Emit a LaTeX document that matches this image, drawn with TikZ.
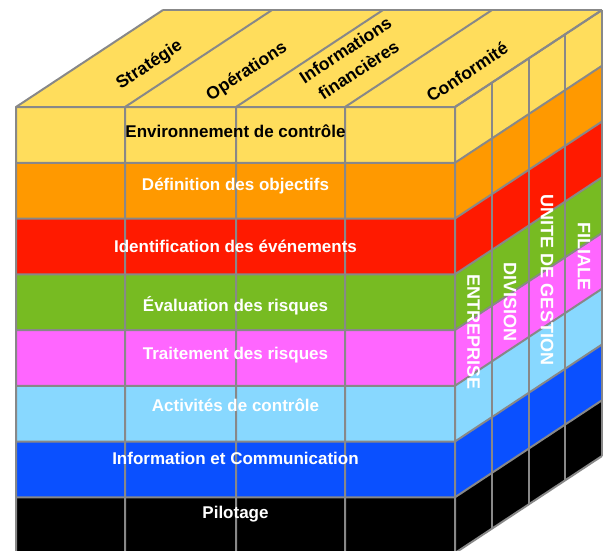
\documentclass[tikz,border=0pt]{standalone}
\usepackage{fontspec}
\setmainfont{Liberation Sans}
\definecolor{envyellow}{RGB}{255,221,92}
\definecolor{objorange}{RGB}{255,153,0}
\definecolor{eventred}{RGB}{255,26,0}
\definecolor{riskgreen}{RGB}{119,187,34}
\definecolor{treatpink}{RGB}{255,102,255}
\definecolor{ctrlblue}{RGB}{136,216,255}
\definecolor{infoblue}{RGB}{10,80,255}
\definecolor{gridgray}{RGB}{136,136,136}
\begin{document}
\begin{tikzpicture}[x=1pt,y=-1pt,
    grid/.style={gridgray,line width=2pt},
    layer/.style={font=\fontsize{17}{20}\selectfont\bfseries,text=white},
    objective/.style={font=\fontsize{17.5}{24}\selectfont\bfseries,rotate=33.4,align=center},
    unit/.style={font=\fontsize{18}{20}\selectfont\bfseries,text=white,rotate=-90}]
  \useasboundingbox (0,0) rectangle (603,550);
  \clip (0,0) rectangle (603,550);
  % top face
  \fill[envyellow] (16,107) -- (163,10) -- (602,10) -- (455,107) -- cycle;
  % layers, front and side
  \foreach \a/\c [evaluate=\a as \b using \a+55.75] in
      {107/envyellow,162.75/objorange,218.5/eventred,274.25/riskgreen,
       330/treatpink,385.75/ctrlblue,441.5/infoblue,497.25/black}
  {
    \fill[\c] (16,\a) rectangle (455,\b);
    \fill[\c] (455,\a) -- (602,\a-97) -- (602,\b-97) -- (455,\b) -- cycle;
  }
  \begin{scope}[grid]
    \foreach \y in {107,162.75,218.5,274.25,330,385.75,441.5,497.25,553}
      \draw (16,\y) -- (455,\y) -- (602,\y-97);
    \foreach \x in {16,125,236,345,455}
      \draw (\x,553) -- (\x,107) -- (\x+147,10);
    \foreach \f in {0.25,0.5,0.75,1}
      \draw (455+147*\f,107-97*\f) -- (455+147*\f,553-97*\f);
    \draw (163,10) -- (602,10);
  \end{scope}
  \draw
    (235.5,131) node[layer,text=black] (env){Environnement de contrôle}
    (235.5,186) node[layer] (obj){Définition des objectifs}
    (235.5,246) node[layer] (evt){Identification des événements}
    (235.5,306) node[layer] (eval){Évaluation des risques}
    (235.5,355) node[layer] (treat){Traitement des risques}
    (235.5,405) node[layer] (ctrl){Activités de contrôle}
    (235.5,458) node[layer] (info){Information et Communication}
    (235.5,514) node[layer] (pilot){Pilotage};
  \draw
    (149.5,65) node[objective] (strat){Stratégie}
    (247,72) node[objective] (ops){Opérations}
    (352,60) node[objective] (fin){Informations\\financières}
    (467,72) node[objective] (conf){Conformité};
  \draw
    (473.5,332) node[unit] (ent){ENTREPRISE}
    (510,302) node[unit] (div){DIVISION}
    (547,280) node[unit] (ug){UNITE DE GESTION}
    (584,256) node[unit] (fil){FILIALE};
\end{tikzpicture}
\end{document}
